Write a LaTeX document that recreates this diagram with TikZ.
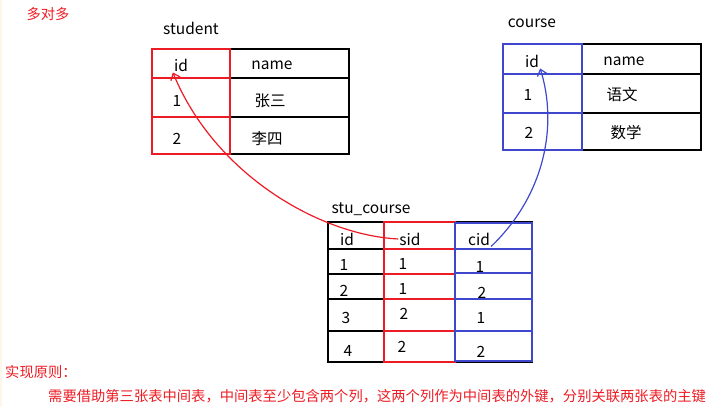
\documentclass[tikz,border=0pt]{standalone}
\usepackage{fontspec}
\setmainfont{Noto Sans CJK SC}
\usetikzlibrary{arrows.meta}
\definecolor{tabred}{RGB}{237,28,36}
\definecolor{tabblue}{RGB}{63,72,204}
\definecolor{edgebeige}{RGB}{252,247,232}

\tikzset{
  cell/.style={inner sep=1pt, font=\fontsize{15.5}{18}\selectfont},
  redtext/.style={inner sep=1pt, text=tabred, font=\fontsize{14.3}{17}\selectfont},
  grid/.style={draw=black, line width=1.5pt},
  redcol/.style={draw=tabred, line width=2pt},
  bluecol/.style={draw=tabblue, line width=2pt},
  link/.style={line width=1.2pt, -{Straight Barb[length=6pt,width=10pt]}},
}

\begin{document}
\begin{tikzpicture}[x=1pt, y=-1pt]
  \useasboundingbox (0,0) rectangle (710,407);
  \fill[edgebeige] (0,0) rectangle (2,407);

  % titles
  \node[redtext] (t-many) at (48,14) {多对多};
  \node[cell] (t-student) at (191,28) {student};
  \node[cell] (t-course) at (532,23) {course};
  \node[cell] (t-stucourse) at (371,209) {stu\_course};

  % student
  \draw[grid] (152,49) rectangle (349,154);
  \foreach \y in {78,117} \draw[grid] (230,\y) -- (349,\y);
  \draw[redcol] (152,49) rectangle (230,154);
  \foreach \y in {78,117} \draw[redcol] (152,\y) -- (230,\y);
  \foreach[count=\j] \x/\y/\t in {181/65/id, 177/101/1, 177/139/2}
    \node[cell] (s-1-\j) at (\x,\y) {\t};
  \foreach[count=\j] \x/\y/\t in {272/65/name, 270/101/张三, 267/139/李四}
    \node[cell] (s-2-\j) at (\x,\y) {\t};

  % course
  \draw[grid] (503,44) rectangle (701,150);
  \foreach \y in {74,113} \draw[grid] (582,\y) -- (701,\y);
  \draw[bluecol] (503,44) rectangle (582,150);
  \foreach \y in {74,113} \draw[bluecol] (503,\y) -- (582,\y);
  \foreach[count=\j] \x/\y/\t in {532/61/id, 528/95/1, 529/133/2}
    \node[cell] (c-1-\j) at (\x,\y) {\t};
  \foreach[count=\j] \x/\y/\t in {624/61/name, 622/95/语文, 626/133/数学}
    \node[cell] (c-2-\j) at (\x,\y) {\t};

  % stu_course
  \draw[grid] (328,222) rectangle (532,362);
  \foreach \y in {249,274,299,331} \draw[grid] (328,\y) -- (384,\y);
  \draw[redcol] (384,222) rectangle (455,362);
  \foreach \y in {249,274,299,331} \draw[redcol] (384,\y) -- (455,\y);
  \draw[bluecol] (455,223) rectangle (532,361);
  \foreach \y in {249,273,299,331} \draw[bluecol] (455,\y) -- (533,\y);
  \foreach[count=\j] \x/\y/\t in {347/239/id, 344/265/1, 344/291/2, 346/318/3, 348/351/4}
    \node[cell] (sc-1-\j) at (\x,\y) {\t};
  \foreach[count=\j] \x/\y/\t in {410/239/sid, 403/264/1, 403/289/1, 404/314/2, 402/347/2}
    \node[cell] (sc-2-\j) at (\x,\y) {\t};
  \foreach[count=\j] \x/\y/\t in {479/239/cid, 480/267/1, 482/293/2, 481/318/1, 481/352/2}
    \node[cell] (sc-3-\j) at (\x,\y) {\t};

  % foreign keys
  \draw[link, tabred] (sc-2-1.west) .. controls (320,235) and (215,175) .. (s-1-1.south west);
  \draw[link, tabblue] (sc-3-1.south east) .. controls (545,195) and (558,125) .. (c-1-1.south east);

  % rule
  \node[redtext, anchor=west] (t-rule) at (4,372) {实现原则：};
  \node[redtext, anchor=west] (t-rule-text) at (47,396)
    {需要借助第三张表中间表，中间表至少包含两个列，这两个列作为中间表的外键，分别关联两张表的主键};
\end{tikzpicture}
\end{document}
